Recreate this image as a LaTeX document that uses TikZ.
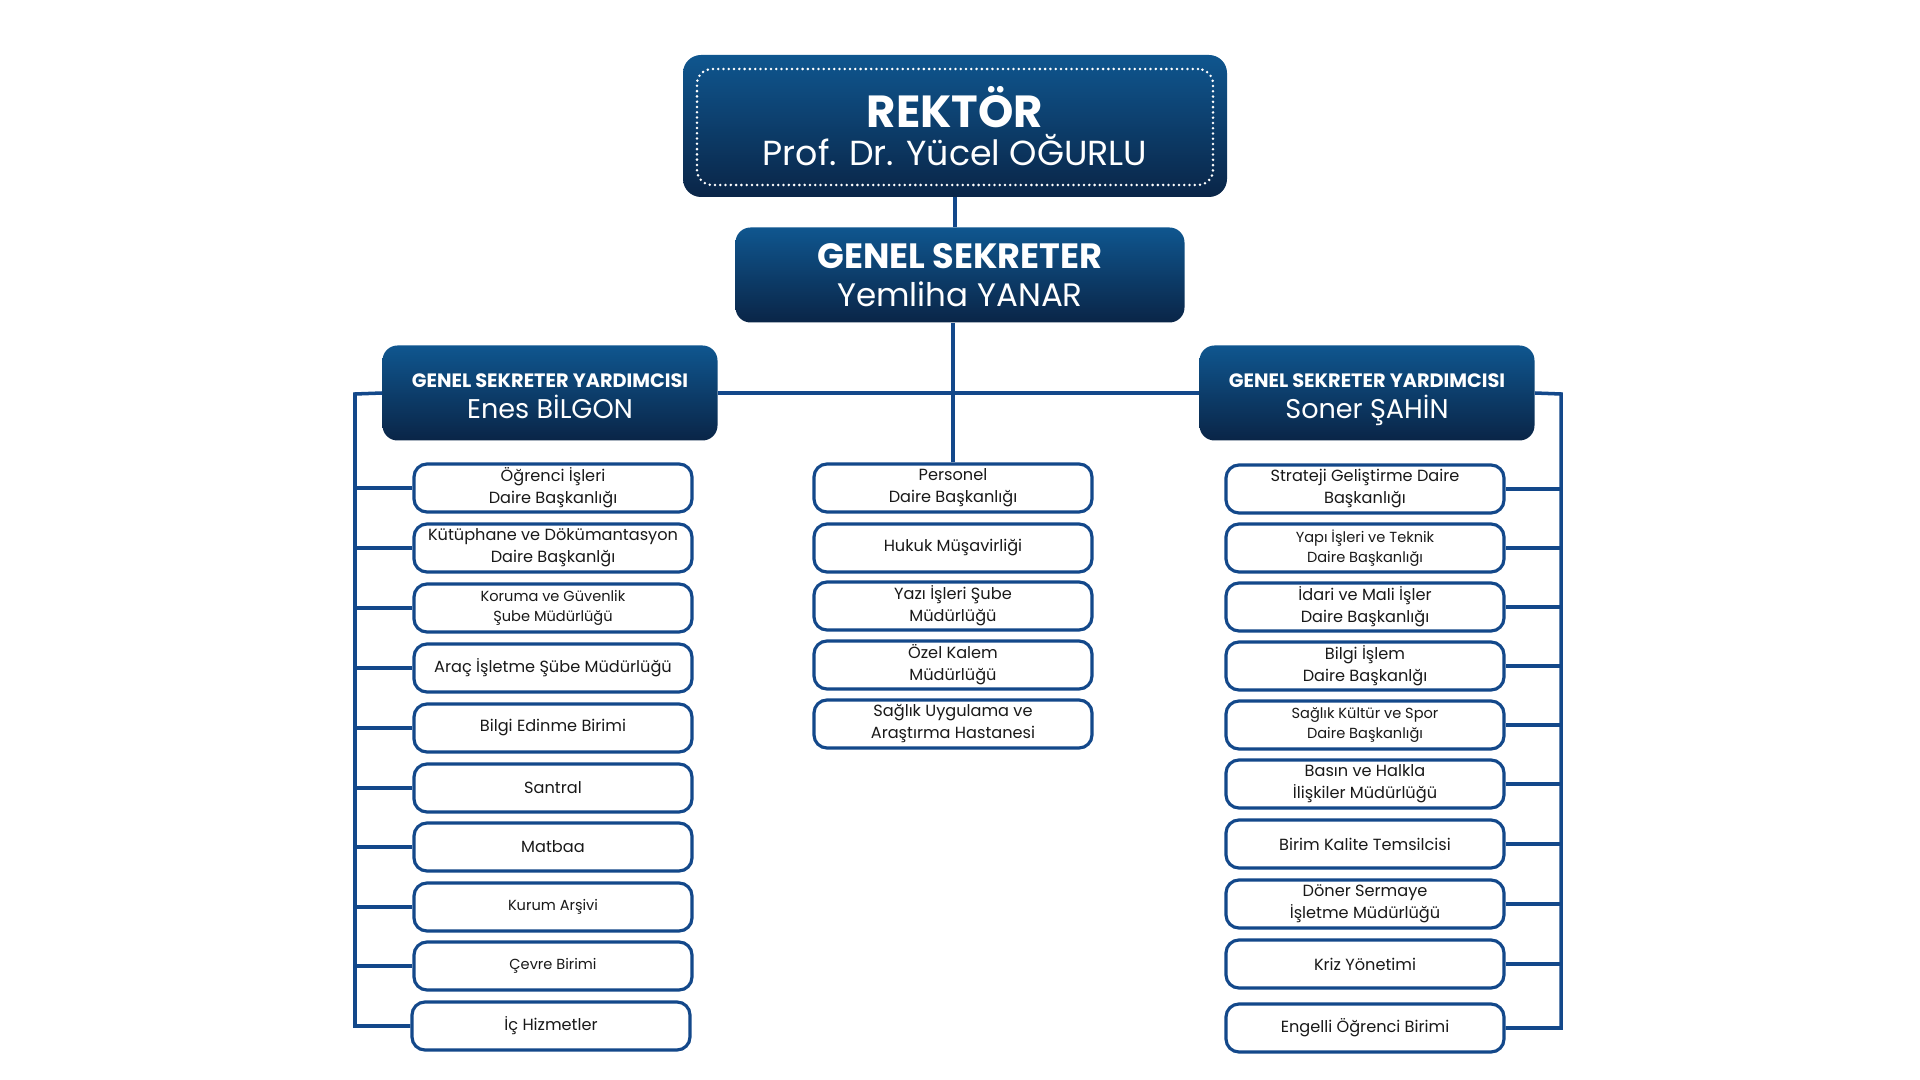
\documentclass[tikz,border=0pt]{standalone}
\usepackage{fontspec}
\setmainfont{Poppins}
\usepackage{tikz}
\usetikzlibrary{positioning}
\definecolor{navy}{HTML}{13488A}
\definecolor{navytop}{HTML}{0F568F}
\definecolor{navybot}{HTML}{0A2547}
\tikzset{>=latex}
\tikzstyle{head} = [rectangle, rounded corners=3mm, top color=navytop, bottom color=navybot, text=white, align=center, inner sep=0]
\tikzstyle{unit} = [rectangle, rounded corners=2.6mm, draw=navy, line width=1.8pt, fill=white, align=center, minimum width=55.6mm, minimum height=9.6mm, inner sep=0, text=black!90, font=\fontsize{9.2}{12.5}\selectfont]
\tikzstyle{unitsm} = [unit, font=\fontsize{8.3}{11}\selectfont]
\tikzstyle{link} = [draw=navy, line width=2pt]
\newcommand{\gsytitle}{{\fontsize{11}{17.4}\selectfont\bfseries\rule{0pt}{11.7pt}GENEL SEKRETER YARDIMCISI}}

\begin{document}
\begin{tikzpicture}[x=0.2mm, y=-0.2mm]
\fill [white] (0,0) rectangle (1920,1080);
\useasboundingbox (0,0) rectangle (1920,1080);
% top of the chart
\node [head, rounded corners=3.6mm, minimum width=108.8mm, minimum height=28.4mm, font=\fontsize{19.8}{22}\selectfont] (rek) at (955,126) {{\fontsize{25.6}{22}\selectfont\bfseries REKTÖR}\\Prof. Dr. Yücel OĞURLU};
\node [rectangle, rounded corners=3mm, draw=white, line width=1.6pt, dash pattern=on 0pt off 3pt, line cap=round, minimum width=103.2mm, minimum height=23.2mm] (rekin) at (955,127) {};
\node [head, minimum width=89.8mm, minimum height=19mm, font=\fontsize{18.5}{21.5}\selectfont] (gs) at (960,275) {{\fontsize{20}{21.5}\selectfont\bfseries GENEL SEKRETER}\\Yemliha YANAR};
\node [head, minimum width=67mm, minimum height=19mm, font=\fontsize{15.4}{17.4}\selectfont] (gsyL) at (550,393) {\gsytitle\\\smash{Enes BİLGON}};
\node [head, minimum width=67mm, minimum height=19mm, font=\fontsize{15.4}{17.4}\selectfont] (gsyR) at (1367,393) {\gsytitle\\\smash{Soner ŞAHİN}};

% left column
\node [unit] (l1) at (553,488) {Öğrenci İşleri\\Daire Başkanlığı};
\node [unit] (l2) at (553,548) {Kütüphane ve Dökümantasyon\\Daire Başkanlğı};
\node [unitsm] (l3) at (553,608) {Koruma ve Güvenlik\\Şube Müdürlüğü};
\node [unit] (l4) at (553,668) {Araç İşletme Şübe Müdürlüğü};
\node [unit] (l5) at (553,728) {Bilgi Edinme Birimi};
\node [unit] (l6) at (553,788) {Santral};
\node [unit] (l7) at (553,847) {Matbaa};
\node [unitsm] (l8) at (553,907) {Kurum Arşivi};
\node [unitsm] (l9) at (553,966) {Çevre Birimi};
\node [unit] (l10) at (551,1026) {İç Hizmetler};

% middle column
\node [unit] (m1) at (953,488) {Personel\\Daire Başkanlığı};
\node [unit] (m2) at (953,548) {Hukuk Müşavirliği};
\node [unit] (m3) at (953,606) {Yazı İşleri Şube\\Müdürlüğü};
\node [unit] (m4) at (953,665) {Özel Kalem\\Müdürlüğü};
\node [unit] (m5) at (953,724) {Sağlık Uygulama ve\\Araştırma Hastanesi};

% right column
\node [unit] (r1) at (1365,489) {Strateji Geliştirme Daire\\Başkanlığı};
\node [unitsm] (r2) at (1365,548) {Yapı İşleri ve Teknik\\Daire Başkanlığı};
\node [unit] (r3) at (1365,607) {İdari ve Mali İşler\\Daire Başkanlığı};
\node [unit] (r4) at (1365,666) {Bilgi İşlem\\Daire Başkanlğı};
\node [unitsm] (r5) at (1365,725) {Sağlık Kültür ve Spor\\Daire Başkanlığı};
\node [unit] (r6) at (1365,784) {Basın ve Halkla\\İlişkiler Müdürlüğü};
\node [unit] (r7) at (1365,844) {Birim Kalite Temsilcisi};
\node [unit] (r8) at (1365,904) {Döner Sermaye\\İşletme Müdürlüğü};
\node [unit] (r9) at (1365,964) {Kriz Yönetimi};
\node [unit] (r10) at (1365,1028) {Engelli Öğrenci Birimi};

% connectors
\coordinate (lb) at (355,394);
\coordinate (rb) at (1561,394);
\draw [link] (rek) -- (rek |- gs.north);
\draw [link] (m1.north) -- (m1.north |- gs.south);
\draw [link] (gsyL.east) -- (gsyR.west);
\draw [link] (gsyL.west) -- (lb) |- (l10.west);
\draw [link] (gsyR.east) -- (rb) |- (r10.east);
\foreach \n in {l1,l2,l3,l4,l5,l6,l7,l8,l9}
  \draw [link] (lb |- \n.west) -- (\n.west);
\foreach \n in {r1,r2,r3,r4,r5,r6,r7,r8,r9}
  \draw [link] (rb |- \n.east) -- (\n.east);
\end{tikzpicture}
\end{document}
